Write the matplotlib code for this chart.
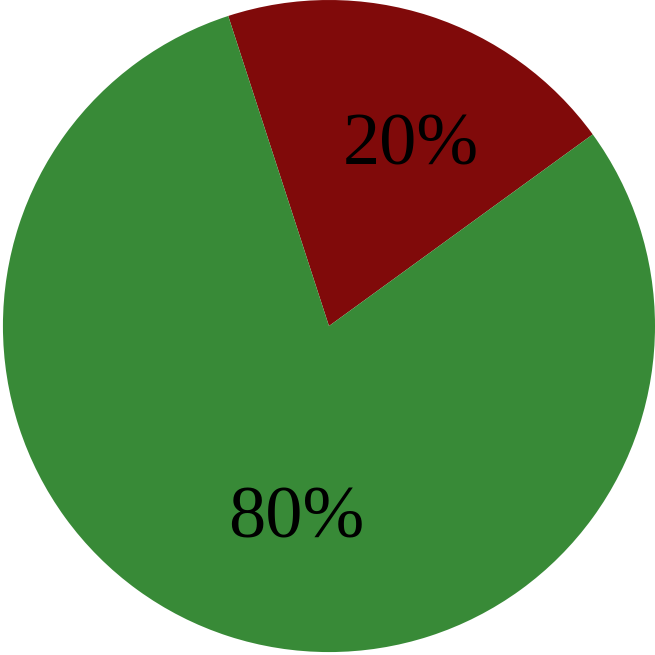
import matplotlib
matplotlib.use('Agg')
import matplotlib.pyplot as plt

# slice data
labels = ['red', 'green']
shares = [20, 80]
colors = ['#800a0a', '#388a37']

fig = plt.figure(figsize=(6.55, 6.55), dpi=100)
ax = fig.add_axes([0, 0, 1, 1])

wedges, texts, autotexts = ax.pie(
    shares, colors=colors, startangle=36, counterclock=True,
    autopct='%d%%', pctdistance=0.6,
    textprops={'family': 'Liberation Serif', 'fontsize': 53.5, 'color': 'black'},
)

# nudge labels, as in the reference
offsets = [(0.065, -0.02), (0.085, -0.025)]
for t, (dx, dy) in zip(autotexts, offsets):
    x, y = t.get_position()
    t.set_position((x + dx, y + dy))

ax.set_xlim(-1.009, 1.0)
ax.set_ylim(-1.009, 1.0)
ax.set_aspect('equal')
ax.axis('off')

fig.savefig('out.png', dpi=100)
